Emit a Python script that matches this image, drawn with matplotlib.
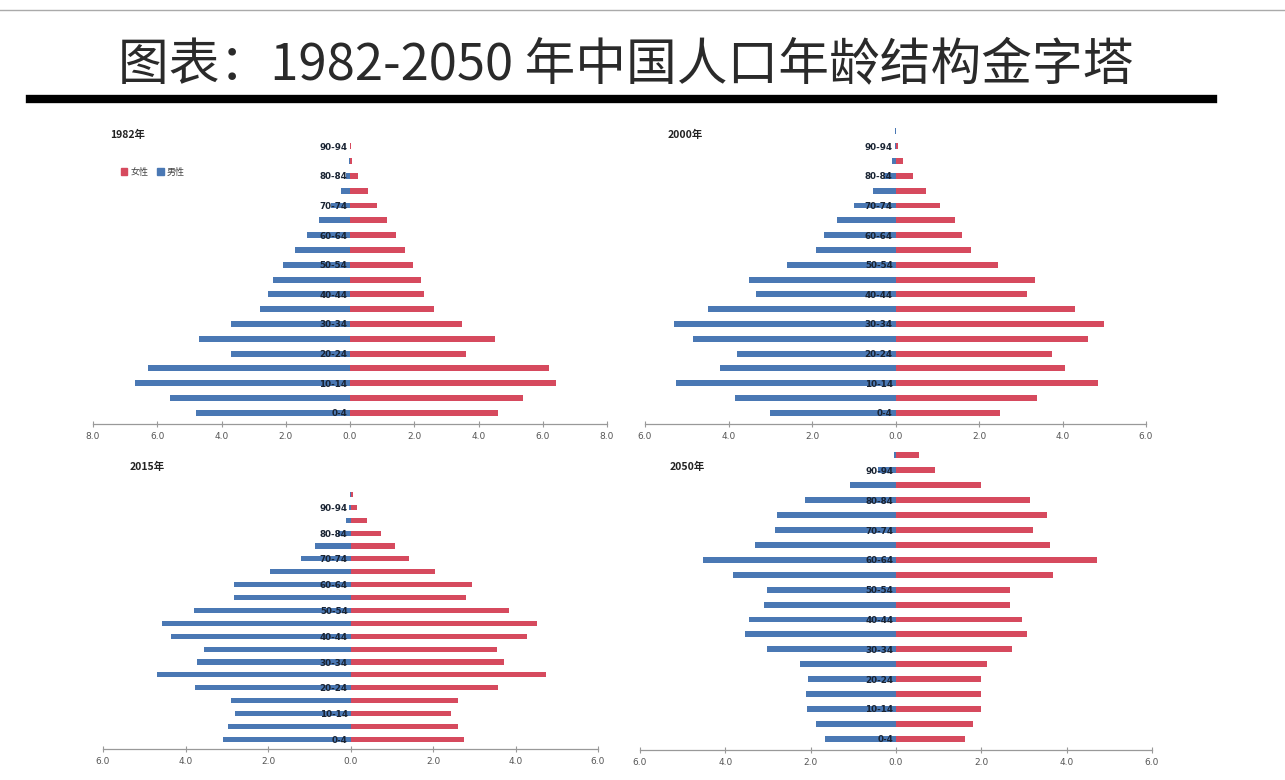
import numpy as np
import matplotlib.pyplot as plt
from matplotlib.lines import Line2D
from matplotlib.patches import Patch

plt.rcParams['font.family'] = ['Noto Sans CJK SC', 'DejaVu Sans']

# age groups, bottom to top
ages = ['0-4', '5-9', '10-14', '15-19', '20-24', '25-29', '30-34', '35-39',
        '40-44', '45-49', '50-54', '55-59', '60-64', '65-69', '70-74',
        '75-79', '80-84', '85-89', '90-94', '95-99']

# share of total population (%)
male_1982 = [4.8, 5.6, 6.7, 6.3, 3.7, 4.7, 3.7, 2.8, 2.55, 2.4,
             2.1, 1.7, 1.35, 0.97, 0.58, 0.27, 0.12, 0.03, 0.01, 0.0]
female_1982 = [4.6, 5.4, 6.4, 6.2, 3.6, 4.5, 3.5, 2.6, 2.3, 2.2,
               1.95, 1.7, 1.42, 1.14, 0.83, 0.57, 0.25, 0.07, 0.02, 0.0]

male_2000 = [3.0, 3.85, 5.25, 4.2, 3.8, 4.85, 5.3, 4.48, 3.35, 3.52,
             2.6, 1.9, 1.71, 1.4, 0.99, 0.55, 0.27, 0.08, 0.02, 0.005]
female_2000 = [2.5, 3.4, 4.85, 4.05, 3.75, 4.6, 5.0, 4.3, 3.15, 3.35,
               2.45, 1.8, 1.6, 1.42, 1.06, 0.74, 0.42, 0.18, 0.05, 0.01]

male_2015 = [3.1, 2.98, 2.79, 2.9, 3.76, 4.68, 3.72, 3.56, 4.36, 4.57,
             3.8, 2.83, 2.83, 1.94, 1.2, 0.85, 0.3, 0.1, 0.03, 0.005]
female_2015 = [2.76, 2.6, 2.44, 2.6, 3.57, 4.73, 3.72, 3.54, 4.27, 4.53,
               3.84, 2.81, 2.95, 2.06, 1.41, 1.07, 0.73, 0.39, 0.15, 0.05]

male_2050 = [1.66, 1.87, 2.08, 2.1, 2.06, 2.25, 3.02, 3.54, 3.44, 3.1,
             3.02, 3.82, 4.52, 3.3, 2.83, 2.8, 2.13, 1.08, 0.42, 0.05]
female_2050 = [1.62, 1.8, 2.0, 2.0, 2.0, 2.13, 2.73, 3.07, 2.95, 2.67,
               2.67, 3.68, 4.7, 3.6, 3.2, 3.53, 3.14, 2.0, 0.91, 0.54]

years = ['1982年', '2000年', '2015年', '2050年']
xlims = [8, 6, 6, 6]

blue = '#4a78b4'
red = '#d64a5e'

W, H = 1285, 780
fig = plt.figure(figsize=(W / 100, H / 100), dpi=100)
fig.patch.set_facecolor('white')

def px_rect(x0, x1, ytop, ybot):
    return [x0 / W, 1 - ybot / H, (x1 - x0) / W, (ybot - ytop) / H]

# axes boxes in pixels: left, right, top, axis line
boxes = [px_rect(93, 607, 124, 424),
         px_rect(645, 1146, 124, 424),
         px_rect(103, 598, 488, 749),
         px_rect(640, 1152, 448, 750)]

males = [male_1982, male_2000, male_2015, male_2050]
females = [female_1982, female_2000, female_2015, female_2050]

y = np.arange(len(ages))
for i in range(4):
    ax = fig.add_axes(boxes[i])
    # y axis sits on zero, set before ticks (it resets them)
    ax.spines['left'].set_position(('data', 0))
    ax.spines['left'].set_color('none')
    ax.spines['right'].set_visible(False)
    ax.spines['top'].set_visible(False)
    ax.spines['bottom'].set_color('#999999')
    ax.spines['bottom'].set_linewidth(0.9)

    ax.barh(y, -np.array(males[i]), height=0.4, color=blue, zorder=1)
    ax.barh(y, females[i], height=0.4, color=red, zorder=1)
    lim = xlims[i]
    ax.set_xlim(-lim, lim)
    ax.set_ylim(-0.75, 19.5)
    ticks = np.arange(-lim, lim + 1, 2)
    ax.set_xticks(ticks)
    ax.set_xticklabels(['%.1f' % abs(t) for t in ticks], fontsize=6.5,
                       color='#555555', family='DejaVu Sans')
    ax.tick_params(axis='x', direction='inout', length=4, color='#999999',
                   width=0.8, pad=4)
    ax.set_yticks(y[::2])
    ax.set_yticklabels(ages[::2], fontsize=6.3, fontweight='bold',
                       color='#1a2433', family='DejaVu Sans')
    ax.tick_params(axis='y', length=0, pad=2)
    ax.patch.set_alpha(0)

# year labels
year_pos = [(110, 135), (668, 135), (130, 467), (670, 467)]
for lab, (px, py) in zip(years, year_pos):
    fig.text(px / W, 1 - py / H, lab, fontsize=7.5, fontweight='bold',
             color='#222222', va='center', ha='left')

# legend of the first panel
handles = [Patch(color=red, label='女性'), Patch(color=blue, label='男性')]
fig.legend(handles=handles, loc='center left', ncol=2, frameon=False,
           bbox_to_anchor=(113 / W, 1 - 172 / H), fontsize=6.5,
           handlelength=0.7, handleheight=0.7, handletextpad=0.3,
           columnspacing=1.0, labelcolor='#444444')

# title and rules
fig.text(626 / W, 1 - 66 / H, '图表：1982-2050 年中国人口年龄结构金字塔',
         fontsize=36.5, ha='center', va='center', color='#2a2a2a',
         fontweight='light')
fig.add_artist(Line2D([30 / W, 1213 / W], [1 - 99 / H, 1 - 99 / H],
                      color='black', linewidth=6))
fig.add_artist(Line2D([0, 1], [1 - 10 / H, 1 - 10 / H],
                      color='#aaaaaa', linewidth=1))

fig.savefig('out.png', dpi=100, facecolor='white')
